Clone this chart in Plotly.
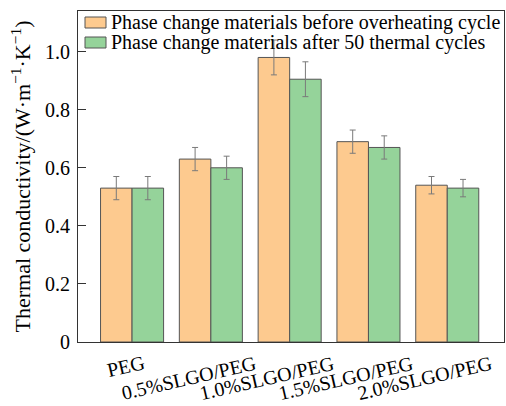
import plotly.graph_objects as go

categories = ["PEG", "0.5%SLGO/PEG", "1.0%SLGO/PEG", "1.5%SLGO/PEG", "2.0%SLGO/PEG"]
series_names = ["Phase change materials before overheating cycle",
                "Phase change materials after 50 thermal cycles"]
before_vals = [0.53, 0.63, 0.98, 0.69, 0.54]
before_err = [0.04, 0.04, 0.06, 0.04, 0.03]
after_vals = [0.53, 0.60, 0.905, 0.67, 0.53]
after_err = [0.04, 0.04, 0.06, 0.04, 0.03]
ytick_vals = [0, 0.2, 0.4, 0.6, 0.8, 1.0]
ytick_text = ["0", "0.2", "0.4", "0.6", "0.8", "1.0"]

colors = ["#FDCA8F", "#95D39A"]
FONT = "Liberation Serif"
xpos = list(range(len(categories)))

fig = go.Figure()
for name, vals, errs, col in [(series_names[0], before_vals, before_err, colors[0]),
                              (series_names[1], after_vals, after_err, colors[1])]:
    fig.add_trace(go.Bar(
        x=xpos, y=vals, name=name, showlegend=False,
        marker=dict(color=col, line=dict(color="#555555", width=1)),
        error_y=dict(type="data", array=errs, color="#7a7a7a", thickness=1, width=3),
    ))

# category labels (slanted)
for i, lab in enumerate(categories):
    fig.add_annotation(
        x=i, y=0, xref="x", yref="paper", text=lab, showarrow=False,
        textangle=-13, xanchor="center", yanchor="top",
        xshift=-len(lab) * 1.9, yshift=-7,
        font=dict(family=FONT, size=20, color="black"),
    )

# legend drawn inside the plot (top-left)
for k, (name, col) in enumerate(zip(series_names, colors)):
    ytop = 17 + 20 * k
    fig.add_shape(type="rect", xref="paper", yref="paper",
                  x0=(85 - 78) / 426, x1=(106 - 78) / 426,
                  y0=1 - (ytop - 11) / 331, y1=1 - (ytop + 11 - 11) / 331,
                  fillcolor=col, line=dict(color="#555555", width=1))
    fig.add_annotation(x=(109 - 78) / 426, y=1 - (ytop + 5.5 - 11) / 331,
                       xref="paper", yref="paper", text=name, showarrow=False,
                       xanchor="left", yanchor="middle",
                       font=dict(family=FONT, size=20, color="black"))

fig.update_layout(
    width=506, height=406,
    margin=dict(l=78, r=2, t=11, b=64),
    paper_bgcolor="white", plot_bgcolor="white",
    barmode="group", bargap=0.2, bargroupgap=0,
    font=dict(family=FONT, size=20, color="black"),
    showlegend=False,
    xaxis=dict(range=[-0.686, 4.72], showticklabels=False, ticks="",
               showline=True, linecolor="#333333", linewidth=1, mirror=True,
               showgrid=False, zeroline=False),
    yaxis=dict(range=[0, 1.14], tickvals=ytick_vals, ticktext=ytick_text,
               ticks="inside", ticklen=8, tickcolor="#333333",
               showline=True, linecolor="#333333", linewidth=1, mirror=True,
               showgrid=False, zeroline=False,
               tickfont=dict(family=FONT, size=20, color="black"), ticklabelstandoff=3,
               title=dict(text="Thermal conductivity/(W·m<sup>−1</sup>·K<sup>−1</sup>)",
                          font=dict(family=FONT, size=22, color="black"), standoff=8)),
)

fig.write_html("out.html")
